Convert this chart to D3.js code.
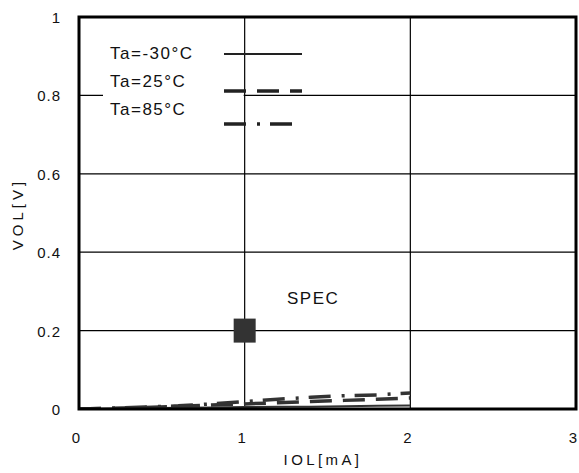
<!DOCTYPE html>
<html>
<head>
<meta charset="utf-8">
<script src="https://cdn.jsdelivr.net/npm/d3@7"></script>
<style>
  body { margin: 0; background: #fff; }
  text { font-family: "Liberation Sans", Arial, sans-serif; fill: #111; }
</style>
</head>
<body>
<svg id="chart" width="579" height="473"></svg>
<script>
// axis ticks
var xTicks = [0, 1, 2, 3]
var yTicks = [0, 0.2, 0.4, 0.6, 0.8, 1]
var yTickLabels = ['0', '0.2', '0.4', '0.6', '0.8', '1']

// IOL [mA] sample points
var iol = [0, 0.2, 0.4, 0.6, 0.8, 1.0, 1.2, 1.4, 1.6, 1.8, 2.0]
// VOL [V] per temperature
var volM30 = [0, 0.001, 0.002, 0.003, 0.004, 0.005, 0.006, 0.006, 0.007, 0.008, 0.009]
var vol25 = [0, 0.002, 0.004, 0.007, 0.010, 0.013, 0.016, 0.019, 0.022, 0.025, 0.028]
var vol85 = [0, 0.002, 0.005, 0.008, 0.013, 0.019, 0.025, 0.030, 0.034, 0.036, 0.041]

var seriesNames = ['Ta=-30°C', 'Ta=25°C', 'Ta=85°C']
var specPoint = [1, 0.2]

var svg = d3.select('#chart')
var x = d3.scaleLinear().domain([0, 3]).range([79, 576])
var y = d3.scaleLinear().domain([0, 1]).range([409, 17])

var styles = [
    {dash: null, width: 2},
    {dash: '22,11', width: 3.5},
    {dash: '22,11,3,10', width: 3.5}
]

// horizontal grid
svg.selectAll('line.hgrid').data(yTicks.slice(1, -1)).enter()
    .append('line')
    .attr('class', 'hgrid')
    .attr('x1', x(0)).attr('x2', x(3))
    .attr('y1', function(d){ return y(d) })
    .attr('y2', function(d){ return y(d) })
    .attr('stroke', '#000')
    .attr('stroke-width', 1.2)

// white box behind legend text hides the 0.8 grid line
svg.append('rect')
    .attr('x', 103).attr('y', 36)
    .attr('width', x(1) - 104).attr('height', 84)
    .attr('fill', '#fff')

// vertical grid
svg.selectAll('line.vgrid').data(xTicks.slice(1, -1)).enter()
    .append('line')
    .attr('class', 'vgrid')
    .attr('y1', y(0)).attr('y2', y(1))
    .attr('x1', function(d){ return x(d) })
    .attr('x2', function(d){ return x(d) })
    .attr('stroke', '#000')
    .attr('stroke-width', 1.2)

// data lines
svg.append('clipPath').attr('id', 'clip')
    .append('rect')
    .attr('x', x(0)).attr('y', y(1))
    .attr('width', x(3) - x(0)).attr('height', y(0) - y(1))

var line = d3.line()
    .x(function(d){ return x(d[0]) })
    .y(function(d){ return y(d[1]) })

var series = [volM30, vol25, vol85]
series.forEach(function(vals, i){
    svg.append('path')
        .datum(d3.zip(iol, vals))
        .attr('clip-path', 'url(#clip)')
        .attr('d', line)
        .attr('fill', 'none')
        .attr('stroke', '#333')
        .attr('stroke-width', styles[i].width)
        .attr('stroke-dasharray', styles[i].dash)
})

// SPEC marker
svg.append('rect')
    .attr('x', x(specPoint[0]) - 11)
    .attr('y', y(specPoint[1]) - 12)
    .attr('width', 22).attr('height', 24)
    .attr('fill', '#333')

svg.append('text')
    .attr('x', 287).attr('y', 304)
    .attr('font-size', '17px')
    .attr('letter-spacing', '1.5px')
    .text('SPEC')

// frame
svg.append('rect')
    .attr('x', x(0)).attr('y', y(1))
    .attr('width', x(3) - x(0)).attr('height', y(0) - y(1))
    .attr('fill', 'none')
    .attr('stroke', '#000')
    .attr('stroke-width', 3)

// legend
var legendY = [54, 91, 124]
var textY = [59, 87, 115]
svg.selectAll('text.legend').data(seriesNames).enter()
    .append('text')
    .attr('class', 'legend')
    .attr('x', 110)
    .attr('y', function(d, i){ return textY[i] })
    .attr('font-size', '17px')
    .attr('letter-spacing', '1.5px')
    .text(function(d){ return d })

svg.selectAll('line.legend').data(seriesNames).enter()
    .append('line')
    .attr('class', 'legend')
    .attr('x1', 224).attr('x2', 302)
    .attr('y1', function(d, i){ return legendY[i] })
    .attr('y2', function(d, i){ return legendY[i] })
    .attr('stroke', '#222')
    .attr('stroke-width', function(d, i){ return styles[i].width })
    .attr('stroke-dasharray', function(d, i){ return styles[i].dash })

// tick labels
svg.selectAll('text.ytick').data(yTicks).enter()
    .append('text')
    .attr('class', 'ytick')
    .attr('x', 61)
    .attr('y', function(d){ return y(d) + 6 })
    .attr('text-anchor', 'end')
    .attr('font-size', '15px')
    .attr('letter-spacing', '1px')
    .text(function(d, i){ return yTickLabels[i] })

svg.selectAll('text.xtick').data(xTicks).enter()
    .append('text')
    .attr('class', 'xtick')
    .attr('x', function(d){ return x(d) - 3 })
    .attr('y', 443)
    .attr('text-anchor', 'middle')
    .attr('font-size', '15px')
    .text(function(d){ return d })

// axis titles
svg.append('text')
    .attr('x', 323).attr('y', 465)
    .attr('text-anchor', 'middle')
    .attr('font-size', '15px')
    .attr('letter-spacing', '3.4px')
    .text('IOL[mA]')

svg.append('text')
    .attr('transform', 'translate(23,214) rotate(-90)')
    .attr('text-anchor', 'middle')
    .attr('font-size', '15px')
    .attr('letter-spacing', '4px')
    .text('VOL[V]')
</script>
</body>
</html>
